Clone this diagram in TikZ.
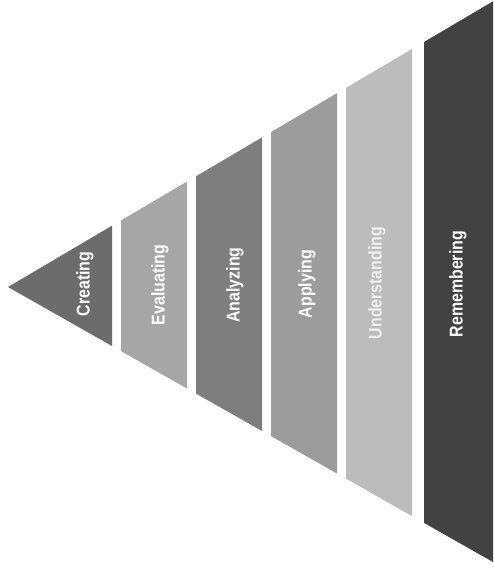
\documentclass[tikz,border=0pt]{standalone}
\usepackage{fontspec}
\setmainfont{Liberation Sans}
\definecolor{cCre}{HTML}{6C6C6C}
\definecolor{cEva}{HTML}{A6A6A6}
\definecolor{cAna}{HTML}{7E7E7E}
\definecolor{cApp}{HTML}{9C9C9C}
\definecolor{cUnd}{HTML}{BCBCBC}
\definecolor{cRem}{HTML}{424242}
\newcommand\narrowtxt[1]{\scalebox{0.86}[1]{#1}}
\begin{document}
\begin{tikzpicture}[x=1pt,y=-1pt,
  lbl/.style={rotate=90,text=white,font=\bfseries\fontsize{18.5}{18.5}\selectfont,inner sep=0pt}]
\useasboundingbox (0,0) rectangle (493,568);
% Creating (triangle)
\fill[cCre] (8,287) -- (112,225.7) -- (112,346) -- cycle;
% Evaluating
\fill[cEva] (121,220.4) -- (187,181.6) -- (187,388.5) -- (121,351.1) -- cycle;
% Analyzing
\fill[cAna] (196,176.3) -- (262,137.4) -- (262,431) -- (196,393.6) -- cycle;
% Applying
\fill[cApp] (271,132.1) -- (337,93.2) -- (337,473.5) -- (271,436.1) -- cycle;
% Understanding
\fill[cUnd] (346,87.9) -- (412,49) -- (412,516.1) -- (346,478.6) -- cycle;
% Remembering
\fill[cRem] (424,42) -- (493,1.3) -- (493,562) -- (424,522.9) -- cycle;
% labels
\node[lbl] (creating) at (85,284) {\narrowtxt{Creating}};
\node[lbl] (evaluating) at (160,285) {\narrowtxt{Evaluating}};
\node[lbl] (analyzing) at (235,285) {\narrowtxt{Analyzing}};
\node[lbl] (applying) at (307,284) {\narrowtxt{Applying}};
\node[lbl,text=white!94!black] (understanding) at (377,283) {\narrowtxt{Understanding}};
\node[lbl] (remembering) at (458,284) {\narrowtxt{Remembering}};
\end{tikzpicture}
\end{document}
